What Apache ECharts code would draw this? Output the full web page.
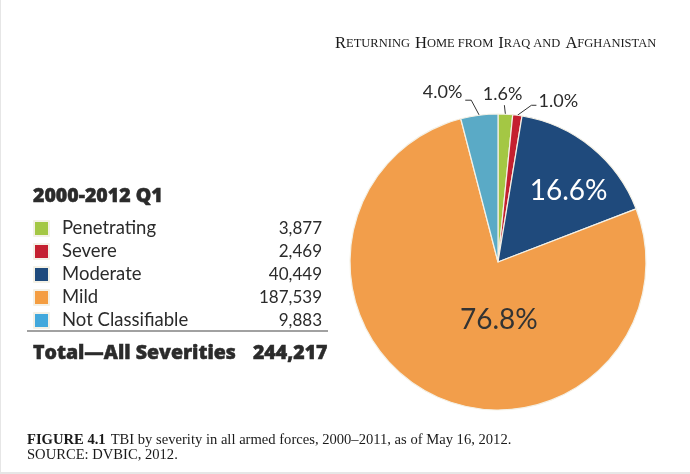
<!DOCTYPE html>
<html>
<head>
<meta charset="utf-8">
<style>
  html, body { margin: 0; padding: 0; background: #fff; overflow: hidden; }
  #chart { width: 690px; height: 474px; }
  #edge { position: absolute; left: 0; top: 0; width: 690px; height: 472px; border-left: 1px solid #e6e6e6; border-bottom: 2px solid #e6e6e6; box-sizing: content-box; pointer-events: none; }
</style>
</head>
<body>
<div id="chart"></div>
<div id="edge"></div>
<script src="https://cdn.jsdelivr.net/npm/echarts@6/dist/echarts.min.js"></script>
<script>
const categories = ['Penetrating', 'Severe', 'Moderate', 'Mild', 'Not Classifiable'];
const counts = [3877, 2469, 40449, 187539, 9883];
const sliceColors = ['#a4c744', '#c4202f', '#1f4a7c', '#f29e4b', '#5aaac6'];
const legendColors = ['#a4c744', '#c4202f', '#1f4a7c', '#f49d41', '#42a8dc'];
const totalLabel = 'Total\u2014All Severities';
const totalValue = '244,217';
const periodLabel = '2000-2012 Q1';

const fmt = n => n.toLocaleString('en-US');
const SANS = 'Lato';
const SERIF = '"Liberation Serif"';

const chart = echarts.init(document.getElementById('chart'), null, { renderer: 'canvas' });

// small caps running head
const small = { fontFamily: SERIF, fontSize: 12.5, fontWeight: 'normal', color: '#1a1a1a' };
const big = { fontFamily: SERIF, fontSize: 16.6, fontWeight: 'normal', color: '#1a1a1a' };

// heavy sans for the table header and total row, thickened with a thin outline
const heavy = { fontFamily: 'Open Sans', fontSize: 19.5, fontWeight: 800, color: '#2b2b2b', textBorderColor: '#2b2b2b', textBorderWidth: 0.5 };

// per-slice label setup: outside ones keep a short leader, inside ones sit on the slice
const outsideLabel = { show: true, position: 'outside', fontFamily: SANS, fontSize: 18, color: '#2b2b2b' };
const insideLabel = { show: true, position: 'inside', fontFamily: SANS, fontSize: 28 };
const labelShift = [
  { dx: -29, dy: -12 },
  { dx: 10, dy: -5 },
  { dx: 22, dy: -11 },
  { dx: 36, dy: -11 },
  { dx: -5, dy: -8 }
];
// leader bends, relative to where the line leaves the pie edge
const leaderBends = [
  [[-1, -9]],
  [[14, -10], [19, -10]],
  null,
  null,
  [[-8, -15], [-14, -15]]
];

const sliceLabels = [
  { label: outsideLabel, labelLine: { show: true, length: 8, length2: 1 } },
  { label: outsideLabel, labelLine: { show: true, length: 9, length2: 5 } },
  { label: { ...insideLabel, color: '#fff' }, labelLine: { show: false } },
  { label: { ...insideLabel, color: '#333' }, labelLine: { show: false } },
  { label: outsideLabel, labelLine: { show: true, length: 15, length2: 5 } }
];

chart.setOption({
  animation: false,
  title: [
    {
      text: '{b|R}{s|ETURNING} {b|H}{s|OME FROM} {b|I}{s|RAQ AND} {b|A}{s|FGHANISTAN}',
      left: 335, top: 35, padding: 0,
      textStyle: { fontWeight: 'normal', rich: { b: big, s: small } }
    },
    {
      text: periodLabel, left: 33, top: 186, padding: 0,
      textStyle: heavy
    },
    {
      text: totalLabel, left: 33, top: 343, padding: 0,
      textStyle: heavy
    },
    {
      text: totalValue, right: 362, top: 343, padding: 0,
      textStyle: heavy
    },
    {
      text: '{b|FIGURE 4.1} {r|TBI by severity in all armed forces, 2000\u20132011, as of May 16, 2012.}\n{r|SOURCE: DVBIC, 2012.}',
      left: 27, top: 433, padding: 0,
      textStyle: {
        fontWeight: 'normal',
        lineHeight: 15,
        rich: {
          b: { fontFamily: SERIF, fontSize: 14.6, fontWeight: 'bold', color: '#1a1a1a', lineHeight: 15 },
          r: { fontFamily: SERIF, fontSize: 14.6, fontWeight: 'normal', color: '#1a1a1a', lineHeight: 15 }
        }
      }
    }
  ],
  legend: {
    orient: 'vertical',
    left: 33, top: 219, padding: 0,
    itemWidth: 15, itemHeight: 15, itemGap: 4, icon: 'rect',
    selectedMode: false,
    data: categories.map((name, i) => ({ name, itemStyle: { color: legendColors[i] } })),
    formatter: name => `{n|${name}}{v|${fmt(counts[categories.indexOf(name)])}}`,
    textStyle: {
      rich: {
        n: { fontFamily: SANS, fontSize: 18.5, color: '#2b2b2b', width: 170, height: 17, padding: [0, 0, 0, 8] },
        v: { fontFamily: SANS, fontSize: 17, color: '#2b2b2b', width: 90, align: 'right', height: 17 }
      }
    }
  },
  graphic: [{
    type: 'line',
    shape: { x1: 27, y1: 331, x2: 328, y2: 331 },
    style: { stroke: '#444', lineWidth: 1.2 }
  }],
  series: [{
    type: 'pie',
    center: [498, 262],
    radius: [0, 148],
    startAngle: 90,
    clockwise: true,
    avoidLabelOverlap: false,
    silent: true,
    itemStyle: { borderColor: '#f4f1e6', borderWidth: 1.2 },
    labelLine: { lineStyle: { color: '#333', width: 1 }, smooth: false },
    label: { formatter: p => p.percent.toFixed(1) + '%' },
    labelLayout: p => {
      const layout = { ...labelShift[p.dataIndex] };
      const bends = leaderBends[p.dataIndex];
      if (bends && p.labelLinePoints) {
        const [sx, sy] = p.labelLinePoints[0];
        layout.labelLinePoints = [[sx, sy], ...bends.map(b => [sx + b[0], sy + b[1]])];
        if (layout.labelLinePoints.length < 3) layout.labelLinePoints.push(layout.labelLinePoints[1]);
      }
      return layout;
    },
    percentPrecision: 3,
    data: categories.map((name, i) => ({
      name,
      value: counts[i],
      itemStyle: { color: sliceColors[i] },
      ...sliceLabels[i]
    }))
  }]
});
</script>
</body>
</html>
